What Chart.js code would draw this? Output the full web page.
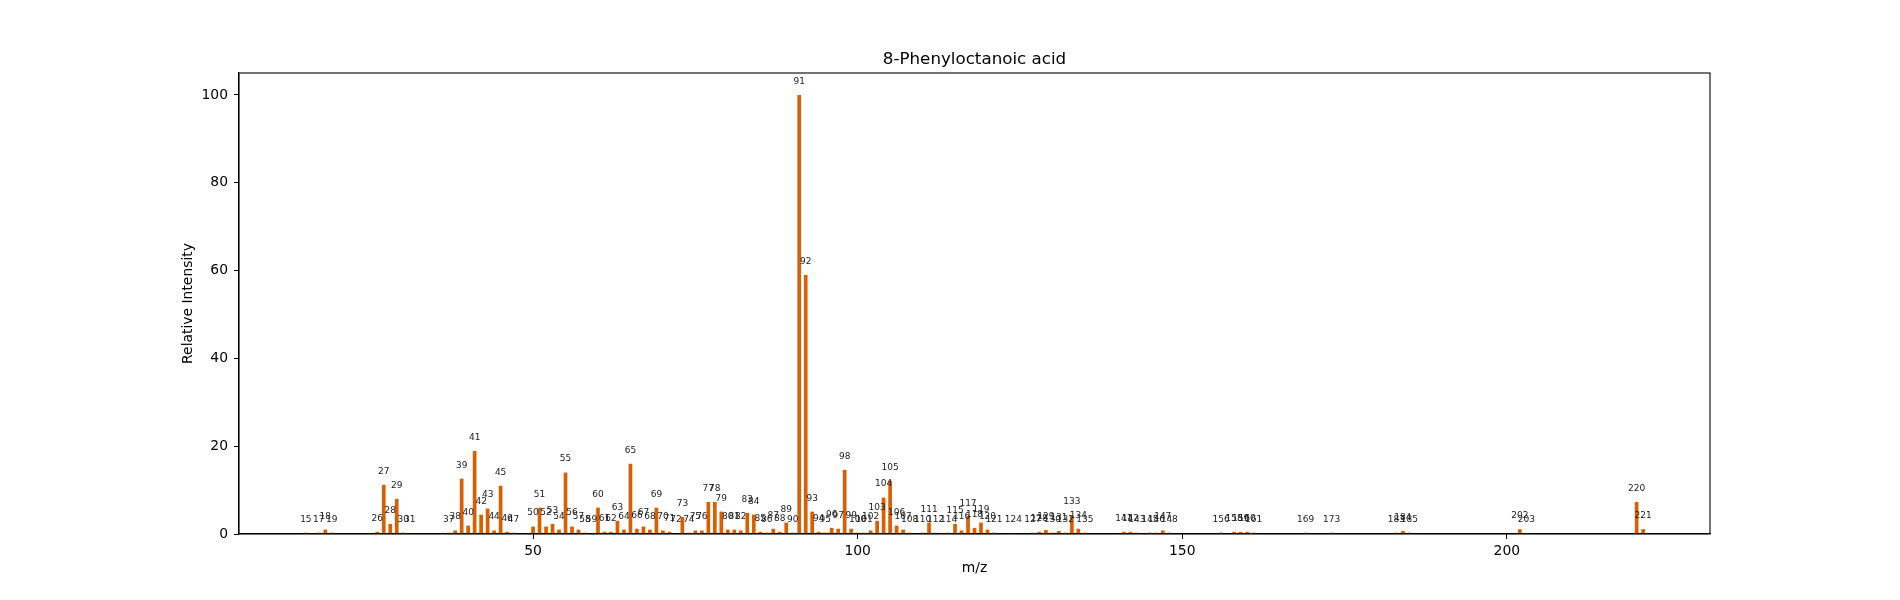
<!DOCTYPE html>
<html lang="en">
<head>
    <meta charset="UTF-8">
    <title>8-Phenyloctanoic acid</title>
    <script src="https://cdn.jsdelivr.net/npm/chart.js"></script>
    <style>
        body {
            margin: 0;
            background: #fff;
        }
        canvas {
            display: block;
        }
    </style>
</head>
<body>
    <canvas id="spectrumChart" width="1900" height="600"></canvas>

    <script>
        // peaks
        const mzValues = [15, 17, 18, 19, 26, 27, 28, 29, 30, 31, 37, 38, 39, 40, 41, 42, 43, 44, 45, 46, 47,
            50, 51, 52, 53, 54, 55, 56, 57, 58, 59, 60, 61, 62, 63, 64, 65, 66, 67, 68, 69, 70, 71, 72, 73, 74,
            75, 76, 77, 78, 79, 80, 81, 82, 83, 84, 85, 86, 87, 88, 89, 90, 91, 92, 93, 94, 95, 96, 97, 98, 99,
            100, 101, 102, 103, 104, 105, 106, 107, 108, 110, 111, 112, 114, 115, 116, 117, 118, 119, 120, 121,
            124, 127, 128, 129, 130, 131, 132, 133, 134, 135, 141, 142, 143, 145, 146, 147, 148,
            156, 158, 159, 160, 161, 169, 173, 183, 184, 185, 202, 203, 220, 221];
        const intensities = [0.3, 0.3, 1.0, 0.3, 0.5, 11.2, 2.3, 8.0, 0.3, 0.1, 0.3, 0.8, 12.6, 1.9, 18.9, 4.4, 5.8, 0.8, 11.0, 0.5, 0.3,
            1.7, 6.0, 1.7, 2.3, 1.0, 14.0, 1.7, 1.0, 0.3, 0.1, 6.0, 0.5, 0.5, 3.0, 1.0, 16.0, 1.2, 1.7, 1.0, 6.0, 0.8, 0.5, 0.1, 3.9, 0.3,
            0.8, 0.8, 7.3, 7.3, 5.1, 1.0, 1.0, 0.8, 4.8, 4.4, 0.5, 0.3, 1.2, 0.5, 2.6, 0.3, 100, 59, 5.1, 0.5, 0.3, 1.4, 1.2, 14.6, 1.2,
            0.3, 0.3, 0.8, 3.0, 8.3, 12.1, 1.9, 1.0, 0.3, 0.3, 2.6, 0.3, 0.3, 2.3, 0.8, 3.9, 1.4, 2.6, 1.0, 0.3,
            0.2, 0.3, 0.5, 0.9, 0.3, 0.7, 0.3, 4.2, 1.2, 0.3, 0.5, 0.5, 0.3, 0.3, 0.3, 0.8, 0.3,
            0.3, 0.5, 0.5, 0.5, 0.3, 0.3, 0.3, 0.3, 0.7, 0.3, 1.1, 0.2, 7.3, 1.1];
        const xTicks = [50, 100, 150, 200];
        const yTicks = [0, 20, 40, 60, 80, 100];

        const points = mzValues.map((mz, i) => ({ x: mz, y: intensities[i] }));
        const font = 'DejaVu Sans';

        // frame, title and peak labels
        const extras = {
            id: 'extras',
            afterDraw(chart) {
                const ctx = chart.ctx;
                const area = chart.chartArea;
                const xs = chart.scales.x;
                const ys = chart.scales.y;
                ctx.save();
                ctx.strokeStyle = '#000';
                ctx.lineWidth = 1.1;
                ctx.strokeRect(area.left, area.top, area.right - area.left, area.bottom - area.top);

                ctx.fillStyle = '#000';
                ctx.textAlign = 'center';
                ctx.textBaseline = 'alphabetic';
                ctx.font = '16.7px "' + font + '"';
                ctx.fillText('8-Phenyloctanoic acid', (area.left + area.right) / 2, 64);

                ctx.fillStyle = '#222';
                ctx.font = '9px "' + font + '"';
                mzValues.forEach((mz, i) => {
                    ctx.fillText(String(mz), xs.getPixelForValue(mz), ys.getPixelForValue(intensities[i] + 2) - 2.3);
                });
                ctx.restore();
            }
        };

        new Chart(document.getElementById('spectrumChart'), {
            type: 'bar',
            data: {
                datasets: [{
                    data: points,
                    backgroundColor: '#d95f02',
                    borderWidth: 0,
                    barPercentage: 0.57,
                    categoryPercentage: 1
                }]
            },
            options: {
                responsive: false,
                animation: false,
                devicePixelRatio: 1,
                layout: { padding: { left: 0, right: 190, top: 73, bottom: 0 } },
                plugins: {
                    legend: { display: false },
                    tooltip: { enabled: false }
                },
                scales: {
                    x: {
                        type: 'linear',
                        offset: false,
                        min: 4.7,
                        max: 231.3,
                        afterBuildTicks: s => { s.ticks = xTicks.map(v => ({ value: v })); },
                        afterFit: s => { s.height = 66; },
                        grid: { drawOnChartArea: false, drawTicks: true, tickLength: 5, color: '#000', offset: false },
                        border: { display: true, color: '#000', width: 1.1 },
                        ticks: { color: '#000', padding: 4, font: { family: font, size: 13.9 }, maxRotation: 0 },
                        title: { display: true, text: 'm/z', color: '#000', font: { family: font, size: 13.9 }, padding: { top: 0, bottom: 23 } }
                    },
                    y: {
                        min: 0,
                        max: 105,
                        afterBuildTicks: s => { s.ticks = yTicks.map(v => ({ value: v })); },
                        afterFit: s => { s.width = 239; },
                        grid: { drawOnChartArea: false, drawTicks: true, tickLength: 5, color: '#000' },
                        border: { display: true, color: '#000', width: 1.1 },
                        ticks: { color: '#000', padding: 6, font: { family: font, size: 13.9 } },
                        title: { display: true, text: 'Relative Intensity', color: '#000', font: { family: font, size: 13.9 }, padding: { top: 180, bottom: 0 } }
                    }
                }
            },
            plugins: [extras]
        });
    </script>
</body>
</html>
